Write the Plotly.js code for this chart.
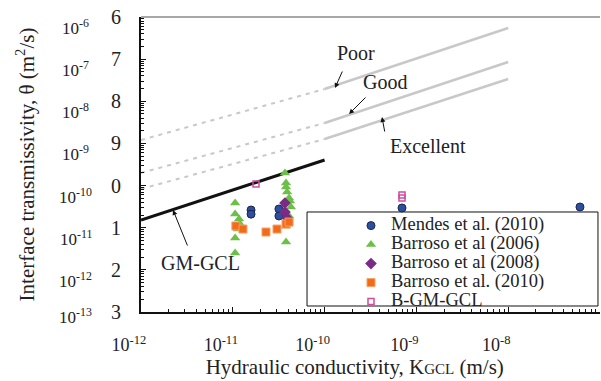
<!DOCTYPE html>
<html>
<head>
<meta charset="utf-8">
<script src="https://cdn.plot.ly/plotly-3.0.1.min.js"></script>
<style>html,body{margin:0;padding:0;background:#fff;}#chart{width:601px;height:381px;}</style>
</head>
<body>
<div id="chart"></div>
<script>
// ---- data ----
const mendesX = [1.58e-11, 1.58e-11, 3.18e-11, 3.18e-11, 6.97e-10, 6.05e-8];
const mendesY = [2.63e-11, 2.10e-11, 2.78e-11, 1.90e-11, 2.94e-11, 3.10e-11];

const barroso2006X = [1.06e-11, 1.06e-11, 1.17e-11, 1.20e-11, 1.14e-11, 1.06e-11, 1.06e-11,
                      3.7e-11, 3.8e-11, 3.8e-11, 3.9e-11, 4.1e-11, 4.2e-11, 4.3e-11, 4.1e-11, 3.8e-11, 3.8e-11];
const barroso2006Y = [3.85e-11, 2.11e-11, 1.61e-11, 1.22e-11, 9.3e-12, 5.7e-12, 2.5e-12,
                      1.99e-10, 1.15e-10, 9.25e-11, 7.0e-11, 5.07e-11, 4.3e-11, 3.1e-11, 1.9e-11, 1.1e-11, 4.6e-12];

const barroso2008X = [3.7e-11, 3.7e-11, 3.9e-11];
const barroso2008Y = [3.85e-11, 2.36e-11, 1.7e-11];

const barroso2010X = [1.08e-11, 1.29e-11, 2.3e-11, 3.03e-11, 3.8e-11, 4.1e-11];
const barroso2010Y = [1.1e-11, 9.3e-12, 7.9e-12, 9.3e-12, 1.22e-11, 1.36e-11];

const bgmX = [1.79e-11, 6.97e-10, 6.97e-10];
const bgmY = [1.09e-10, 5.97e-11, 5.07e-11];

// reference lines: dashed part (1e-12..1e-10), solid part (1e-10..1e-8)
const dashK = [1e-12, 1e-10];
const solidK = [1e-10, 1e-8];
const poorDash = [1.205e-9, 1.955e-8];
const poorSolid = [1.955e-8, 5.48e-7];
const goodDash = [2.0e-10, 3.05e-9];
const goodSolid = [3.05e-9, 8.55e-8];
const excDash = [8.3e-11, 1.27e-9];
const excSolid = [1.27e-9, 3.38e-8];
const gmK = [1e-12, 1e-10];
const gmTheta = [1.52e-11, 4.05e-10];

// tick labels
const xTickVals = [1e-12, 1e-11, 1e-10, 1e-9, 1e-8, 1e-7];
const xTickText = ['10<sup>-12</sup>', '10<sup>-11</sup>', '10<sup>-10</sup>', '10<sup>-9</sup>', '10<sup>-8</sup>', '10<sup>-7</sup>'];
const yTickVals = [1e-13, 1e-12, 1e-11, 1e-10, 1e-9, 1e-8, 1e-7, 1e-6];
const yTickText = ['3', '2', '1', '0', '9', '8', '7', '6'];
const yPowLabels = ['10<sup>-13</sup>', '10<sup>-12</sup>', '10<sup>-11</sup>', '10<sup>-10</sup>', '10<sup>-9</sup>', '10<sup>-8</sup>', '10<sup>-7</sup>', '10<sup>-6</sup>'];

const seriesNames = ['Mendes et al. (2010)', 'Barroso et al (2006)', 'Barroso et al (2008)', 'Barroso et al. (2010)', 'B-GM-GCL'];

const FONT = 'Liberation Serif, Times New Roman, serif';
const TXT = '#222';
const lg = n => '<span style="font-size:18.5px">' + n + '</span>';

const gray = '#c8c8c8';
const traces = [];
function addLine(x, y, dash, color, width) {
  traces.push({x: x, y: y, mode: 'lines', showlegend: false, hoverinfo: 'skip',
    line: {color: color, width: width, dash: dash}});
}
addLine(dashK, poorDash, '4px,5px', gray, 2);
addLine(dashK, goodDash, '4px,5px', gray, 2);
addLine(dashK, excDash, '4px,5px', gray, 2);
addLine(solidK, poorSolid, 'solid', gray, 2.5);
addLine(solidK, goodSolid, 'solid', gray, 2.5);
addLine(solidK, excSolid, 'solid', gray, 2.5);
addLine(gmK, gmTheta, 'solid', '#111', 3);

traces.push({x: mendesX, y: mendesY, mode: 'markers', name: lg(seriesNames[0]),
  marker: {symbol: 'circle', size: 8, color: '#2d4f9e', line: {color: '#1a2650', width: 1}}});
traces.push({x: barroso2006X, y: barroso2006Y, mode: 'markers', name: lg(seriesNames[1]),
  marker: {symbol: 'triangle-up', size: 9, color: '#6cbf47', line: {width: 0}}});
traces.push({x: barroso2008X, y: barroso2008Y, mode: 'markers', name: lg(seriesNames[2]),
  marker: {symbol: 'diamond', size: 9, color: '#7a2b86', line: {width: 0}}});
traces.push({x: barroso2010X, y: barroso2010Y, mode: 'markers', name: lg(seriesNames[3]),
  marker: {symbol: 'square', size: 8, color: '#f26b1d', line: {color: '#f7a060', width: 1}}});
traces.push({x: bgmX, y: bgmY, mode: 'markers', name: lg(seriesNames[4]),
  marker: {symbol: 'square-open', size: 6, color: '#cf4c9e', line: {color: '#cf4c9e', width: 1.5}}});

const annotations = [];
yTickVals.forEach((v, i) => {
  annotations.push({xref: 'paper', yref: 'y', x: -0.142, y: Math.log10(v), xanchor: 'center', yanchor: 'middle',
    yshift: i === 0 ? -4 : -10, text: yPowLabels[i], showarrow: false, font: {family: FONT, size: 17, color: TXT}});
});
function label(t, lx, ly) {
  annotations.push({x: lx, y: ly, text: t, showarrow: false, xanchor: 'center', yanchor: 'middle',
    font: {family: FONT, size: 20, color: TXT}});
}
function arrow(lx, ly, ax, ay) {
  annotations.push({x: lx, y: ly, text: '', showarrow: true, ax: ax, ay: ay, arrowhead: 2,
    arrowsize: 1, arrowwidth: 1, arrowcolor: '#111', standoff: 0, startstandoff: 0});
}
label('Poor', -9.658, -6.854);
label('Good', -9.342, -7.542);
label('Excellent', -8.874, -9.061);
label('GM-GCL', -11.357, -11.838);
arrow(-9.887, -7.685, 8, -18);
arrow(-9.734, -8.302, 18, -18);
arrow(-9.375, -8.373, 3, 16);
arrow(-11.651, -10.58, 15, 37);

const layout = {
  width: 601, height: 381,
  margin: {l: 141, r: 1, t: 17, b: 69, pad: 0},
  paper_bgcolor: '#fff', plot_bgcolor: '#fff',
  font: {family: FONT, color: TXT},
  showlegend: true,
  legend: {x: 0.4575, xanchor: 'left', y: 0.342, yanchor: 'top', bgcolor: 'rgba(0,0,0,0)',
    borderwidth: 0, font: {family: FONT, size: 12, color: TXT}, itemwidth: 30, tracegroupgap: 0},
  xaxis: {type: 'log', range: [-12, -7], tickmode: 'array', tickvals: xTickVals, ticktext: xTickText,
    showgrid: false, zeroline: false, showline: true, linecolor: '#111', linewidth: 1.5,
    ticks: 'inside', ticklen: 5, tickwidth: 1, tickcolor: '#111', ticklabelshift: -12, ticklabelstandoff: 16,
    tickfont: {family: FONT, size: 18, color: TXT},
    minor: {dtick: 'D1', ticks: 'inside', ticklen: 3, tickcolor: '#111', tickwidth: 1, showgrid: false},
    title: {text: 'Hydraulic conductivity, K<span style="font-size:15px">GCL</span> (m/s)&nbsp;&nbsp;&nbsp;&nbsp;&nbsp;&nbsp;', standoff: 3,
      font: {family: FONT, size: 21, color: TXT}},
    automargin: false},
  yaxis: {type: 'log', range: [-13, -6], tickmode: 'array', tickvals: yTickVals, ticktext: yTickText,
    showgrid: false, zeroline: false, showline: true, linecolor: '#111', linewidth: 2,
    ticks: 'inside', ticklen: 5, tickwidth: 1, tickcolor: '#111', ticklabelstandoff: 14,
    tickfont: {family: FONT, size: 20, color: TXT},
    minor: {dtick: 'D1', ticks: 'inside', ticklen: 3, tickcolor: '#111', tickwidth: 1, showgrid: false},
    title: {text: 'Interface transmissivity, θ (m<sup>2</sup>/s)', standoff: 71,
      font: {family: FONT, size: 21, color: TXT}},
    automargin: false},
  shapes: [
    {type: 'line', xref: 'paper', yref: 'paper', x0: 0, x1: 1, y0: 1, y1: 1, line: {color: '#8a8a8a', width: 1.5}},
    {type: 'rect', xref: 'paper', yref: 'paper', x0: 0.3617, x1: 0.9956, y0: 0.0203, y1: 0.339,
      fillcolor: '#fff', line: {color: '#111', width: 1}, layer: 'below'}
  ],
  annotations: annotations
};

Plotly.newPlot('chart', traces, layout, {displayModeBar: false, staticPlot: true});
</script>
</body>
</html>
